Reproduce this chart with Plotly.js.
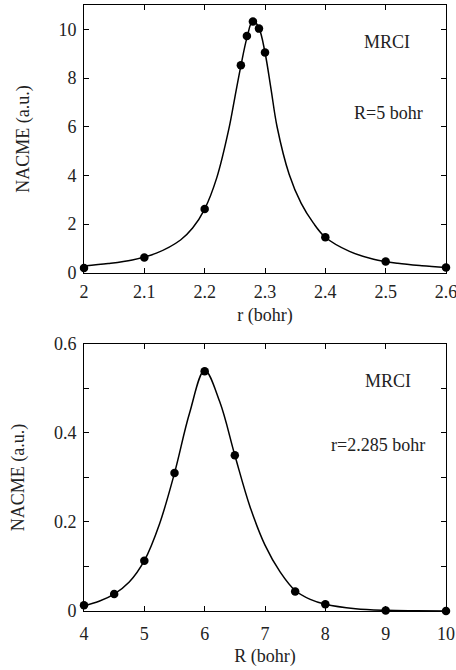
<!DOCTYPE html>
<html>
<head>
<meta charset="utf-8">
<script src="https://cdn.plot.ly/plotly-3.0.1.min.js"></script>
<style>html,body{margin:0;padding:0;background:#fff;}</style>
</head>
<body>
<div id="chart" style="width:456px;height:670px;"></div>
<script>
// Top panel: NACME vs r at R = 5 bohr
const rPoints = [2.00, 2.10, 2.20, 2.26, 2.27, 2.28, 2.29, 2.30, 2.40, 2.50, 2.60];
const nacmeR = [0.20, 0.63, 2.62, 8.53, 9.73, 10.32, 10.03, 9.05, 1.46, 0.47, 0.22];
const rCurveX = [2.00, 2.04, 2.08, 2.12, 2.16, 2.18, 2.20, 2.22, 2.24, 2.25, 2.26, 2.27, 2.28, 2.29, 2.30, 2.31, 2.32, 2.34, 2.36, 2.38, 2.40, 2.44, 2.48, 2.52, 2.56, 2.60];
const rCurveY = [0.28, 0.38, 0.53, 0.81, 1.35, 1.84, 2.62, 3.90, 5.90, 7.20, 8.50, 9.65, 10.37, 10.05, 9.05, 7.55, 6.00, 4.05, 2.85, 2.05, 1.46, 0.88, 0.56, 0.39, 0.29, 0.22];
const rTicks = [2, 2.1, 2.2, 2.3, 2.4, 2.5, 2.6];
const rTickText = ['2', '2.1', '2.2', '2.3', '2.4', '2.5', '2.6'];
const yTopTicks = [0, 2, 4, 6, 8, 10];
const yTopText = ['0', '2', '4', '6', '8', '10'];

// Bottom panel: NACME vs R at r = 2.285 bohr
const RPoints = [4.0, 4.5, 5.0, 5.5, 6.0, 6.5, 7.5, 8.0, 9.0, 10.0];
const nacmeBig = [0.013, 0.038, 0.113, 0.310, 0.539, 0.350, 0.044, 0.015, 0.001, 0.000];
const RCurveX = [4.0, 4.25, 4.5, 4.75, 5.0, 5.25, 5.5, 5.75, 6.0, 6.25, 6.5, 6.75, 7.0, 7.25, 7.5, 7.75, 8.0, 8.5, 9.0, 9.5, 10.0];
const RCurveY = [0.012, 0.022, 0.038, 0.065, 0.113, 0.195, 0.310, 0.445, 0.541, 0.470, 0.350, 0.235, 0.148, 0.088, 0.046, 0.026, 0.015, 0.005, 0.0015, 0.0005, 0.000];
const RTicks = [4, 5, 6, 7, 8, 9, 10];
const RTickText = ['4', '5', '6', '7', '8', '9', '10'];
const yBotTicks = [0, 0.1, 0.2, 0.3, 0.4, 0.5, 0.6];
const yBotText = ['0', '', '0.2', '', '0.4', '', '0.6'];

const FONT = '"Liberation Serif", "Times New Roman", serif';
const txt = {family: FONT, size: 18, color: '#222'};

const traces = [
  {x: rCurveX, y: rCurveY, xaxis: 'x', yaxis: 'y', mode: 'lines',
   line: {color: '#000', width: 1.5, shape: 'spline', smoothing: 1}, hoverinfo: 'skip'},
  {x: rPoints, y: nacmeR, xaxis: 'x', yaxis: 'y', mode: 'markers', cliponaxis: false,
   marker: {color: '#000', size: 8.5}},
  {x: RCurveX, y: RCurveY, xaxis: 'x2', yaxis: 'y2', mode: 'lines',
   line: {color: '#000', width: 1.5, shape: 'spline', smoothing: 1}, hoverinfo: 'skip'},
  {x: RPoints, y: nacmeBig, xaxis: 'x2', yaxis: 'y2', mode: 'markers', cliponaxis: false,
   marker: {color: '#000', size: 8.5}}
];

const axBase = {
  showline: true, linecolor: '#000', linewidth: 1, mirror: 'ticks',
  ticks: 'inside', ticklen: 5, tickwidth: 1, tickcolor: '#000',
  showgrid: false, zeroline: false, tickfont: txt, automargin: false,
  tickmode: 'array', ticklabeloverflow: 'allow'
};

const layout = {
  width: 456, height: 670,
  margin: {l: 84, r: 10, t: 5, b: 59},
  paper_bgcolor: '#fff', plot_bgcolor: '#fff',
  showlegend: false,
  font: txt,
  xaxis: Object.assign({}, axBase, {
    domain: [0, 1], anchor: 'y', range: [2, 2.6000001],
    tickvals: rTicks, ticktext: rTickText, ticklabelstandoff: 3,
    title: {text: 'r (bohr)', font: txt, standoff: 6}
  }),
  yaxis: Object.assign({}, axBase, {
    domain: [0.558, 1], anchor: 'x', range: [0, 11],
    tickvals: yTopTicks, ticktext: yTopText, ticklabelstandoff: 3,
    title: {text: 'NACME (a.u.)', font: txt, standoff: 24}
  }),
  xaxis2: Object.assign({}, axBase, {
    domain: [0, 1], anchor: 'y2', range: [4, 10.000001],
    tickvals: RTicks, ticktext: RTickText, ticklabelstandoff: 6,
    title: {text: 'R (bohr)', font: txt, standoff: 6}
  }),
  yaxis2: Object.assign({}, axBase, {
    domain: [0, 0.4406], anchor: 'x2', range: [0, 0.6],
    tickvals: yBotTicks, ticktext: yBotText, ticklabelstandoff: 3,
    title: {text: 'NACME (a.u.)', font: txt, standoff: 24}
  }),
  annotations: [
    {xref: 'x domain', yref: 'y domain', x: 0.837, y: 0.861, text: 'MRCI', showarrow: false, font: txt, xanchor: 'center', yanchor: 'middle'},
    {xref: 'x domain', yref: 'y domain', x: 0.840, y: 0.597, text: 'R=5 bohr', showarrow: false, font: txt, xanchor: 'center', yanchor: 'middle'},
    {xref: 'x2 domain', yref: 'y2 domain', x: 0.840, y: 0.861, text: 'MRCI', showarrow: false, font: txt, xanchor: 'center', yanchor: 'middle'},
    {xref: 'x2 domain', yref: 'y2 domain', x: 0.812, y: 0.622, text: 'r=2.285 bohr', showarrow: false, font: txt, xanchor: 'center', yanchor: 'middle'}
  ]
};

Plotly.newPlot('chart', traces, layout, {displayModeBar: false, staticPlot: true});
</script>
</body>
</html>
